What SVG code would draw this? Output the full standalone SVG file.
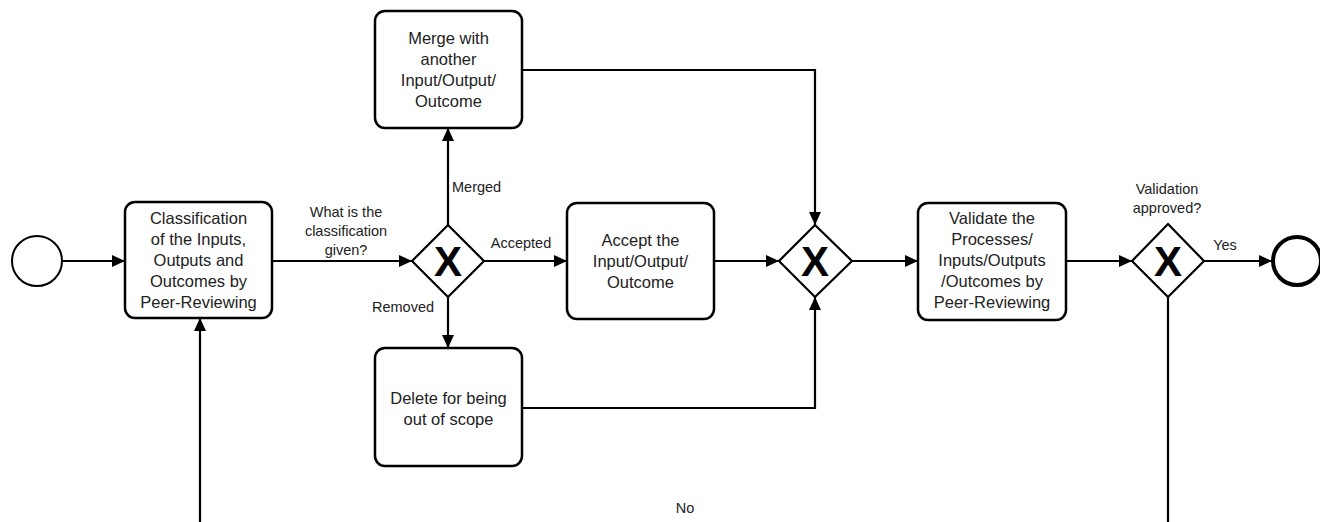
<svg xmlns="http://www.w3.org/2000/svg" width="1320" height="522" viewBox="0 0 1320 522">
<style>
.box{fill:#fff;stroke:#000;stroke-width:2.5}
.gw{fill:#fff;stroke:#000;stroke-width:2.2}
.ev{fill:#fff;stroke:#000;stroke-width:2}
.end{fill:#fff;stroke:#000;stroke-width:4}
.t{font-family:"Liberation Sans",Arial,sans-serif;font-size:16.5px;fill:#222;text-anchor:middle}
.l{font-family:"Liberation Sans",Arial,sans-serif;font-size:14.5px;fill:#222;text-anchor:middle}
.x{font-family:"Liberation Sans",Arial,sans-serif;font-size:42px;font-weight:bold;fill:#000;text-anchor:middle}
.c{fill:none;stroke:#000;stroke-width:2.2}
</style>
<defs>
<marker id="a" markerUnits="userSpaceOnUse" markerWidth="14" markerHeight="12" refX="13" refY="6" orient="auto">
<path d="M0,0 L13,6 L0,12 z" fill="#000"/>
</marker>
</defs>
<g id="connectors">
<path class="c" d="M62,261 H125" marker-end="url(#a)"/>
<path class="c" d="M272,261 H412" marker-end="url(#a)"/>
<path class="c" d="M448,225 V128" marker-end="url(#a)"/>
<path class="c" d="M484,261 H567" marker-end="url(#a)"/>
<path class="c" d="M448,297 V348" marker-end="url(#a)"/>
<path class="c" d="M522,70 H815 V225" marker-end="url(#a)"/>
<path class="c" d="M714,261 H779" marker-end="url(#a)"/>
<path class="c" d="M522,408 H815 V297" marker-end="url(#a)"/>
<path class="c" d="M852,261 H918" marker-end="url(#a)"/>
<path class="c" d="M1066,261 H1132" marker-end="url(#a)"/>
<path class="c" d="M1204,261 H1272" marker-end="url(#a)"/>
<path class="c" d="M1168,297 V545 H200 V318" marker-end="url(#a)"/>
<text class="l" x="346" y="217">What is the</text>
<text class="l" x="346" y="236">classification</text>
<text class="l" x="346" y="255">given?</text>
<text class="l" x="452" y="192" style="text-anchor:start">Merged</text>
<text class="l" x="521" y="248">Accepted</text>
<text class="l" x="403" y="312">Removed</text>
<text class="l" x="1167" y="194">Validation</text>
<text class="l" x="1167" y="213">approved?</text>
<text class="l" x="1225" y="250">Yes</text>
<text class="l" x="685" y="513">No</text>
</g>
<g id="start"><circle class="ev" cx="37" cy="261" r="25"/></g>
<g id="classify">
<rect class="box" x="125" y="202" width="147" height="116" rx="10"/>
<text class="t" x="198.5" y="224">Classification</text>
<text class="t" x="198.5" y="245">of the Inputs,</text>
<text class="t" x="198.5" y="266">Outputs and</text>
<text class="t" x="198.5" y="287">Outcomes by</text>
<text class="t" x="198.5" y="308">Peer-Reviewing</text>
</g>
<g id="gw1">
<path class="gw" d="M448,225 L484,261 L448,297 L412,261 z"/>
<text class="x" x="448" y="276">X</text>
</g>
<g id="merge">
<rect class="box" x="375" y="11" width="147" height="117" rx="10"/>
<text class="t" x="448.5" y="44">Merge with</text>
<text class="t" x="448.5" y="65">another</text>
<text class="t" x="448.5" y="86">Input/Output/</text>
<text class="t" x="448.5" y="107">Outcome</text>
</g>
<g id="accept">
<rect class="box" x="567" y="203" width="147" height="116" rx="10"/>
<text class="t" x="640.5" y="246">Accept the</text>
<text class="t" x="640.5" y="267">Input/Output/</text>
<text class="t" x="640.5" y="288">Outcome</text>
</g>
<g id="delete">
<rect class="box" x="375" y="348" width="147" height="118" rx="10"/>
<text class="t" x="448.5" y="404">Delete for being</text>
<text class="t" x="448.5" y="425">out of scope</text>
</g>
<g id="gw2">
<path class="gw" d="M815,225 L852,261 L815,297 L779,261 z"/>
<text class="x" x="815" y="276">X</text>
</g>
<g id="validate">
<rect class="box" x="918" y="203" width="148" height="117" rx="10"/>
<text class="t" x="992" y="224">Validate the</text>
<text class="t" x="992" y="245">Processes/</text>
<text class="t" x="992" y="266">Inputs/Outputs</text>
<text class="t" x="992" y="287">/Outcomes by</text>
<text class="t" x="992" y="308">Peer-Reviewing</text>
</g>
<g id="gw3">
<path class="gw" d="M1168,224 L1204,261 L1168,297 L1132,261 z"/>
<text class="x" x="1168" y="276">X</text>
</g>
<g id="end"><circle class="end" cx="1297" cy="261" r="24"/></g>
</svg>
